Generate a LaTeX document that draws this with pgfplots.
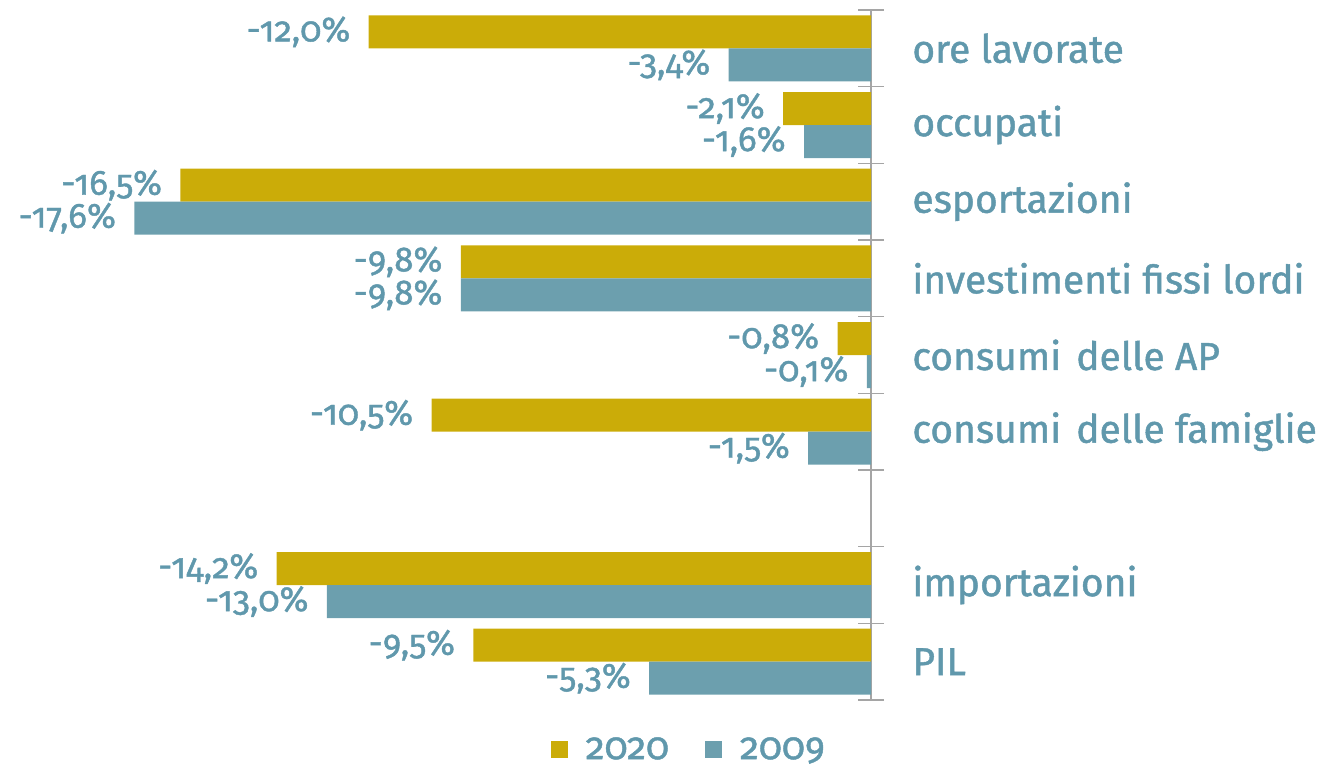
\documentclass[border=0pt]{standalone}
\usepackage{fontspec}
\setmainfont{Fira Sans}[Numbers=OldStyle]
\newfontfamily\semib{Fira Sans}[Numbers=OldStyle, FakeBold=1.2]
\usepackage{pgfplots}
\pgfplotsset{compat=1.18}
\definecolor{gold}{RGB}{203,172,8}
\definecolor{tealbar}{RGB}{108,159,174}
\definecolor{tealtext}{RGB}{96,152,172}
\definecolor{axgray}{RGB}{165,165,165}
\begin{document}
\begin{tikzpicture}
\path[use as bounding box] (0,0) rectangle (670pt,-383.5pt);
\begin{axis}[
  at={(0pt,-5pt)}, anchor=north west,
  scale only axis, width=435.5pt, height=345pt,
  xmin=-20.81, xmax=0, ymin=-0.5, ymax=8.5,
  axis x line=none, axis y line*=right,
  axis line style={axgray, line width=0.8pt},
  xbar, bar width=16.5pt,
  ytick={0,...,8},
  yticklabels={PIL, importazioni, {}, consumi\hspace{0.12em} delle famiglie, consumi\hspace{0.12em} delle AP, investimenti fissi lordi, esportazioni, occupati, ore lavorate},
  major tick length=0pt,
  minor ytick={-0.5,0.5,...,8.5},
  minor tick length=13pt,
  tick align=center,
  every minor tick/.style={axgray, line width=0.8pt},
  yticklabel style={font=\semib\fontsize{19.5}{23}\selectfont, text=tealtext, anchor=west, inner sep=0pt, xshift=20.5pt},
  point meta=x,
  nodes near coords={\pgfmathprintnumber[fixed,fixed zerofill,precision=1,use comma,assume math mode=true]{\pgfplotspointmeta}\%},
  every node near coord/.append style={anchor=east, inner sep=0pt, xshift=-9pt, text=tealtext, font=\semib\fontsize{17.5}{20}\selectfont},
  clip=false,
  legend columns=2,
  legend style={draw=none, fill=none, at={(0.792,-0.072)}, anchor=center, font=\semib\fontsize{19}{22}\selectfont, text=tealtext, /tikz/every even column/.append style={column sep=16pt}, /tikz/every odd column/.append style={column sep=0pt}},
  legend image code/.code={\fill[#1] (0pt,-4.25pt) rectangle (8.5pt,4.25pt);},
  legend cell align=left,
]
\addplot[fill=gold, draw=none, bar shift=8.25pt] coordinates {
  (-9.5,0) (-14.2,1) (-10.5,3) (-0.8,4) (-9.8,5) (-16.5,6) (-2.1,7) (-12.0,8)
};
\addplot[fill=tealbar, draw=none, bar shift=-8.25pt] coordinates {
  (-5.3,0) (-13.0,1) (-1.5,3) (-0.1,4) (-9.8,5) (-17.6,6) (-1.6,7) (-3.4,8)
};
\legend{\hspace{7pt}2020, \hspace{7pt}2009}
\end{axis}
\end{tikzpicture}
\end{document}
